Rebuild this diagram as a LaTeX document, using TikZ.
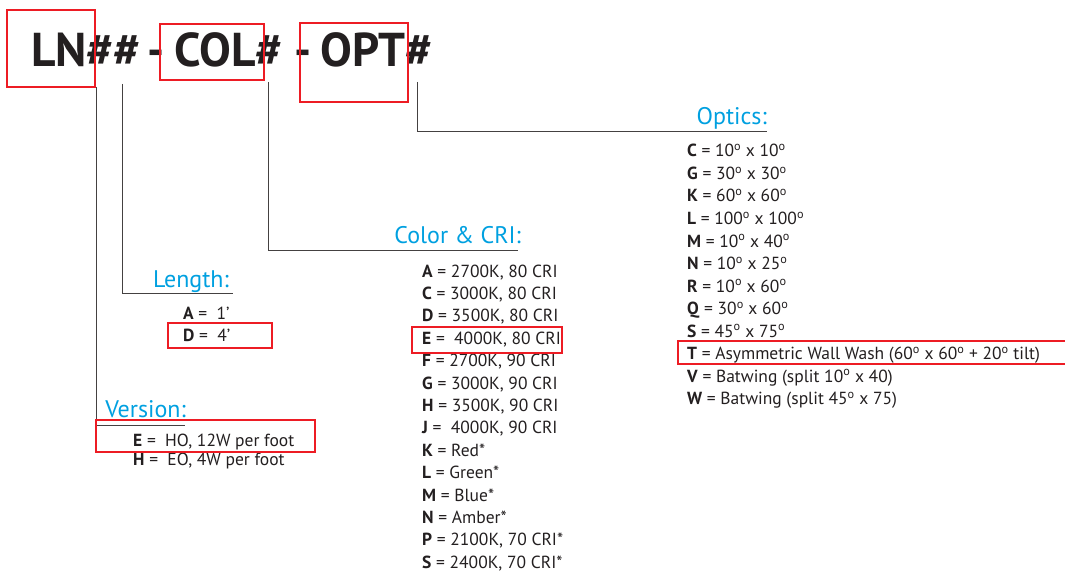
\documentclass[tikz,border=0pt]{standalone}
\usepackage{fontspec}
\setmainfont{PT Sans}
\definecolor{codeblue}{RGB}{0,160,224}
\definecolor{inkgray}{RGB}{35,31,32}
\definecolor{markred}{RGB}{237,28,36}
\newcommand{\degs}{\textsuperscript{o}}

\begin{document}
\begin{tikzpicture}[x=1pt,y=-1pt,
 part/.style={anchor=base west,inner sep=0pt,text=inkgray,font=\fontsize{47.5}{52}\selectfont\bfseries},
 head/.style={anchor=base east,inner sep=0pt,text=codeblue,font=\fontsize{24}{28}\selectfont},
 item/.style={anchor=base west,inner sep=0pt,text=inkgray,font=\fontsize{17.5}{21}\selectfont},
 leader/.style={draw=inkgray!85,line width=1pt},
 hilite/.style={draw=markred,line width=1.8pt}]
\useasboundingbox (0,0) rectangle (1065,572);

% part number
\node[part] (ln) at (31,67) {LN\#\#};
\node[part] (dash1) at (147,67) {-};
\node[part] (col) at (174,67) {COL\#};
\node[part] (dash2) at (294,67) {-};
\node[part] (opt) at (320,67) {OPT\#};

% leaders and headings
\coordinate (vTop) at (96,87);   \coordinate (vEnd) at (185,425);
\coordinate (lTop) at (122,84);  \coordinate (lEnd) at (233,293);
\coordinate (cTop) at (268,82);  \coordinate (cEnd) at (518,250);
\coordinate (oTop) at (417,82);  \coordinate (oEnd) at (767,132);
\draw[leader] (vTop) |- (vEnd);
\draw[leader] (lTop) |- (lEnd);
\draw[leader] (cTop) |- (cEnd);
\draw[leader] (oTop) |- (oEnd);
\node[head] (version) at (186,417) {Version:};
\node[head] (length) at (229,287) {Length:};
\node[head] (color) at (521,243) {Color \& CRI:};
\node[head] (optics) at (767,125) {Optics:};

% option lists
\node[item] (ver-1) at (133,446) {\textbf{E} =\ \ HO, 12W per foot};
\node[item] (ver-2) at (133,465) {\textbf{H} =\ \ EO, 4W per foot};
\node[item] (len-1) at (183,319) {\textbf{A} =\ \ 1’};
\node[item] (len-2) at (183,341) {\textbf{D} =\ \ 4’};
\foreach \k/\v [count=\i] in {A/{2700K, 80 CRI},C/{3000K, 80 CRI},D/{3500K, 80 CRI},
  E/{\ 4000K, 80 CRI},F/{2700K, 90 CRI},G/{3000K, 90 CRI},H/{3500K, 90 CRI},
  J/{\ 4000K, 90 CRI},K/Red*,L/Green*,M/Blue*,N/Amber*,P/{2100K, 70 CRI*},S/{2400K, 70 CRI*}}
  \node[item] (col-\i) at (422,{277+22.4*(\i-1)}) {\textbf{\k} = \v};
\foreach \k/\v [count=\i] in {C/10\degs\ x 10\degs,G/30\degs\ x 30\degs,K/60\degs\ x 60\degs,
  L/100\degs\ x 100\degs,M/10\degs\ x 40\degs,N/10\degs\ x 25\degs,R/10\degs\ x 60\degs,
  Q/30\degs\ x 60\degs,S/45\degs\ x 75\degs,
  T/{Asymmetric Wall Wash (60\degs\ x 60\degs\ + 20\degs\ tilt)},
  V/{Batwing (split 10\degs\ x 40)},W/{Batwing (split 45\degs\ x 75)}}
  \node[item] (opt-\i) at (687,{157+22.5*(\i-1)}) {\textbf{\k} = \v};

% selected options
\draw[hilite] (7,10) rectangle (95,87);
\draw[hilite] (160,24) rectangle (264,80);
\draw[hilite] (300,23) rectangle (408,102);
\draw[hilite] (168,323) rectangle (272,348);
\draw[hilite] (96,420) rectangle (315,452);
\draw[hilite] (412,327) rectangle (562,353);
\draw[hilite] (678,341) rectangle (1070,364);
\end{tikzpicture}
\end{document}
